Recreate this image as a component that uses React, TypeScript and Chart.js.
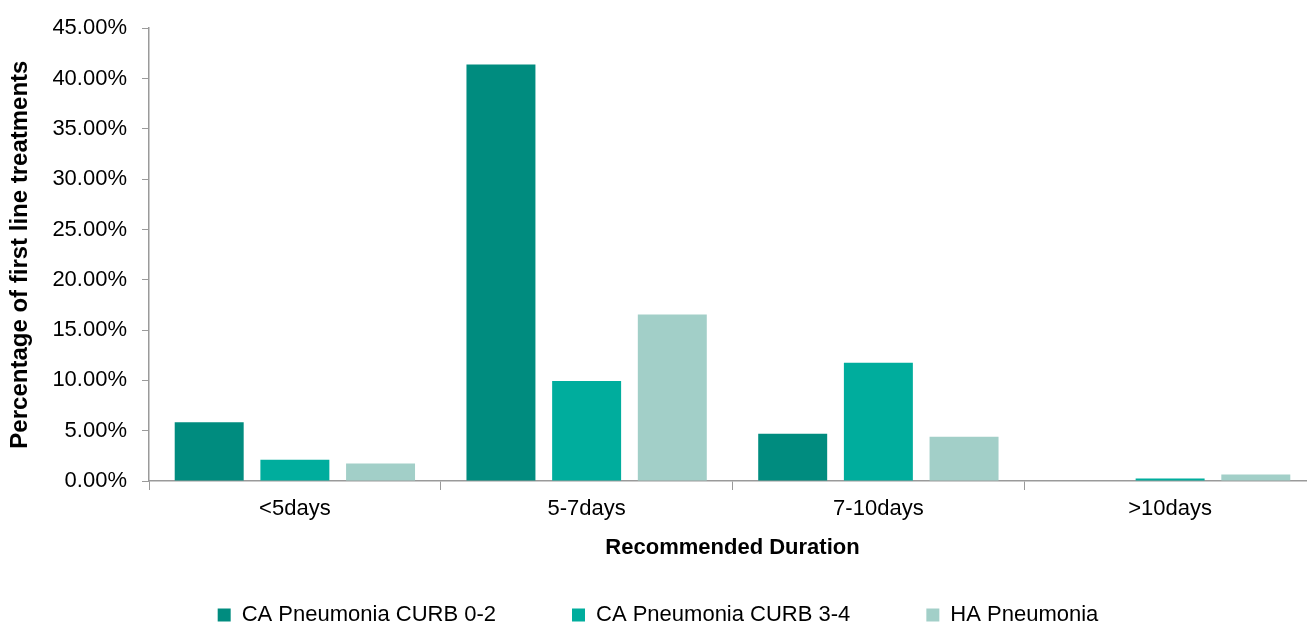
import React, { useEffect, useRef } from "react";
import { Chart, registerables } from "chart.js";

Chart.register(...registerables);

const categories = ["<5days", "5-7days", "7-10days", ">10days"];
const seriesLabels = ["CA Pneumonia CURB 0-2", "CA Pneumonia CURB 3-4", "HA Pneumonia"];
const curb02 = [5.85, 41.4, 4.7, 0];
const curb34 = [2.1, 9.95, 11.75, 0.25];
const haPneumonia = [1.75, 16.55, 4.4, 0.65];
const seriesColors = ["#008C7F", "#00AD9D", "#A2CFC8"];
const yTickMin = 0;
const yTickMax = 45;
const yTickStep = 5;

const FONT = "'Liberation Sans', Arial, sans-serif";

export default function App() {
  const ref = useRef<HTMLCanvasElement | null>(null);

  useEffect(() => {
    if (!ref.current) return;
    const values = [curb02, curb34, haPneumonia];
    const chart = new Chart(ref.current, {
      type: "bar",
      data: {
        labels: categories,
        datasets: values.map((v, i) => ({
          label: seriesLabels[i],
          data: v,
          backgroundColor: seriesColors[i],
          borderWidth: 0,
          barPercentage: 0.805,
          categoryPercentage: 0.881,
        })),
      },
      options: {
        responsive: false,
        animation: false,
        layout: { padding: { top: 26, right: 2, left: 0, bottom: -11 } },
        plugins: {
          tooltip: { enabled: false },
          legend: {
            position: "bottom",
            labels: {
              boxWidth: 13,
              boxHeight: 13,
              padding: 76,
              color: "#000",
              font: { family: FONT, size: 22 },
            },
          },
        },
        scales: {
          x: {
            afterFit: (s: any) => {
              s.height = 47;
            },
            grid: {
              display: true,
              drawOnChartArea: false,
              drawTicks: true,
              tickLength: 9,
              color: "#9a9a9a",
              offset: true,
            },
            border: { display: true, color: "#9a9a9a", width: 1.5 },
            ticks: {
              color: "#000",
              padding: 6,
              font: { family: FONT, size: 22 },
              maxRotation: 0,
            },
            title: {
              display: true,
              text: "Recommended Duration",
              color: "#000",
              font: { family: FONT, size: 22, weight: "bold" },
              padding: { top: 0, bottom: -33 },
            },
          },
          y: {
            min: yTickMin,
            max: yTickMax,
            afterFit: (s: any) => {
              s.width = 149;
            },
            grid: {
              display: true,
              drawOnChartArea: false,
              drawTicks: true,
              tickLength: 7,
              color: "#9a9a9a",
            },
            border: { display: true, color: "#9a9a9a", width: 1.5 },
            ticks: {
              stepSize: yTickStep,
              color: "#000",
              padding: 15,
              font: { family: FONT, size: 22 },
              callback: (v: any) => Number(v).toFixed(2) + "%",
            },
            title: {
              display: true,
              text: "Percentage of first line treatments",
              color: "#000",
              font: { family: FONT, size: 24, weight: "bold" },
              padding: { top: 6, bottom: 0 },
            },
          },
        },
      },
    });
    return () => chart.destroy();
  }, []);

  return (
    <div
      style={{
        position: "absolute",
        left: 0,
        top: 0,
        width: 1307,
        height: 625,
        overflow: "hidden",
        background: "#fff",
      }}
    >
      <canvas ref={ref} width={1318} height={625} style={{ display: "block" }} />
    </div>
  );
}
